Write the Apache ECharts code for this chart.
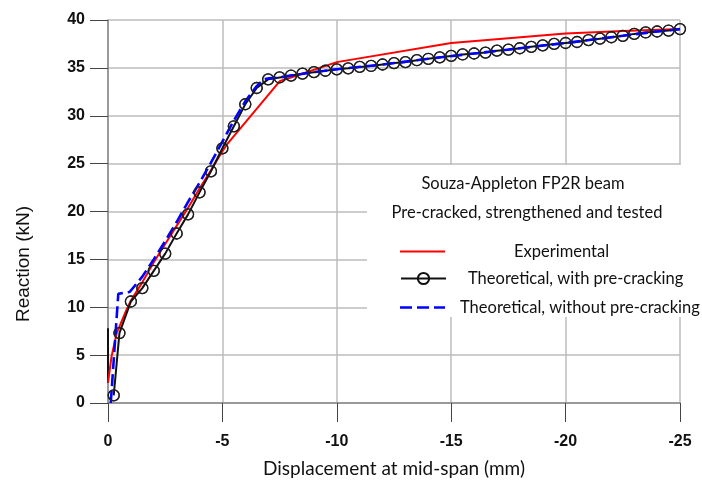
<!DOCTYPE html>
<html>
<head>
<meta charset="utf-8">
<script src="https://cdn.jsdelivr.net/npm/echarts@6/dist/echarts.min.js"></script>
<style>
html,body{margin:0;padding:0;background:#fff;}
#chart{width:702px;height:484px;}
</style>
</head>
<body>
<div id="chart"></div>
<script>
// Experimental
var expX = [0, -0.15, -0.38, -0.8, -1.0, -1.5, -2.0, -2.5, -3.0, -3.5, -4.0, -4.5, -5.0, -5.2, -7.5, -10, -15, -17.5, -20, -22.5, -25];
var expY = [2.1, 4.8, 7.3, 9.7, 10.7, 12.6, 14.7, 16.6, 18.5, 20.4, 22.4, 24.3, 26.3, 27.0, 33.6, 35.6, 37.6, 38.1, 38.6, 38.85, 39.05];
// Theoretical, with pre-cracking
var withX = [-0.25, -0.5, -1, -1.5, -2, -2.5, -3, -3.5, -4, -4.5, -5, -5.5, -6, -6.5, -7, -7.5, -8, -8.5, -9, -9.5, -10,
  -10.5, -11, -11.5, -12, -12.5, -13, -13.5, -14, -14.5, -15, -15.5, -16, -16.5, -17, -17.5, -18, -18.5, -19, -19.5, -20,
  -20.5, -21, -21.5, -22, -22.5, -23, -23.5, -24, -24.5, -25];
var withY = [0.8, 7.3, 10.6, 12.0, 13.8, 15.6, 17.7, 19.7, 22.0, 24.2, 26.6, 28.9, 31.2, 32.9, 33.8, 34.0, 34.2, 34.4, 34.55, 34.7, 34.85,
  34.95, 35.1, 35.2, 35.35, 35.5, 35.6, 35.8, 35.95, 36.1, 36.25, 36.4, 36.5, 36.6, 36.8, 36.9, 37.05, 37.2, 37.35, 37.5, 37.6,
  37.7, 37.9, 38.05, 38.2, 38.35, 38.55, 38.7, 38.8, 38.9, 39.05];
// Theoretical, without pre-cracking
var withoutX = [-0.12, -0.45, -0.95, -1.5, -2.0, -2.5, -3.0, -3.5, -4.0, -4.5, -5.0, -5.5, -6.0, -6.5, -6.8, -7.0, -7.5, -8, -9, -10, -12, -14, -16, -18, -20, -22, -24, -25];
var withoutY = [0, 11.4, 11.6, 13.2, 15.0, 16.9, 18.9, 21.0, 23.0, 25.1, 27.3, 29.5, 31.5, 33.1, 33.8, 33.9, 34.0, 34.2, 34.55, 34.85, 35.35, 35.95, 36.5, 37.05, 37.6, 38.2, 38.8, 39.05];
// short vertical segment at zero displacement
var startX = [0, 0];
var startY = [2.1, 7.8];

var xTicks = [0, -5, -10, -15, -20, -25];
var yTicks = [0, 5, 10, 15, 20, 25, 30, 35, 40];

function pairs(xs, ys){ return xs.map(function(x,i){ return [x, ys[i]]; }); }

var chart = echarts.init(document.getElementById('chart'), null, {renderer:'canvas'});
var sansFont = 'Lato';
var lineIcon = 'path://M0,0h45v2h-45z';
var dashIcon = 'path://M0,0h12v2.4h-12z M17,0h12v2.4h-12z M34,0h11v2.4h-11z';
var opt = {
  animation: false,
  backgroundColor: '#fff',
  grid: {left: 108, right: 22, top: 20, bottom: 81},
  xAxis: {
    type: 'value', min: -25, max: 0, interval: 5, inverse: true,
    name: 'Displacement at mid-span (mm)', nameLocation: 'middle', nameGap: 56,
    nameTextStyle: {fontFamily: sansFont, fontSize: 19, color: '#111'},
    axisLine: {onZero: false, lineStyle: {color: '#888', width: 1.5}},
    axisTick: {show: true, length: 19, lineStyle: {color: '#444', width: 1}},
    axisLabel: {margin: 31, fontFamily: 'Liberation Sans', fontWeight: 'bold', fontSize: 16, color: '#111',
      formatter: function(v){ return xTicks.indexOf(v) >= 0 ? String(v) : ''; }},
    splitLine: {show: true, lineStyle: {color: '#bdbdbd', width: 1.5}}
  },
  yAxis: {
    type: 'value', min: 0, max: 40, interval: 5,
    axisLine: {onZero: false, lineStyle: {color: '#888', width: 1.5}},
    axisTick: {show: true, length: 18, lineStyle: {color: '#444', width: 1}},
    axisLabel: {margin: 23, fontFamily: 'Liberation Sans', fontWeight: 'bold', fontSize: 16, color: '#111',
      formatter: function(v){ return yTicks.indexOf(v) >= 0 ? String(v) : ''; }},
    splitLine: {show: true, lineStyle: {color: '#bdbdbd', width: 1.5}}
  },
  legend: [
    {data: [{name: 'Experimental', icon: lineIcon}], left: 395, top: 238, itemWidth: 45, itemHeight: 14, z: 10,
      textStyle: {fontFamily: sansFont, fontSize: 16.5, color: '#111', padding: [0,0,0,64]}},
    {data: ['Theoretical, with pre-cracking'], left: 395, top: 265, itemWidth: 45, itemHeight: 14, z: 10,
      textStyle: {fontFamily: sansFont, fontSize: 16.5, color: '#111', padding: [0,0,0,17]}},
    {data: [{name: 'Theoretical, without pre-cracking', icon: dashIcon}], left: 395, top: 294, itemWidth: 45, itemHeight: 14, z: 10,
      textStyle: {fontFamily: sansFont, fontSize: 16.5, color: '#111', padding: [0,0,0,10]}}
  ],
  graphic: [
    {type: 'rect', z: 1, shape: {x: 367, y: 165, width: 335, height: 152}, style: {fill: '#fff'}},
    {type: 'text', z: 5, x: 523, y: 184, style: {text: 'Souza-Appleton FP2R beam', textAlign: 'center', textVerticalAlign: 'middle', font: '16.5px Lato', fill: '#111'}},
    {type: 'text', z: 5, x: 527, y: 213, style: {text: 'Pre-cracked, strengthened and tested', textAlign: 'center', textVerticalAlign: 'middle', font: '16.5px Lato', fill: '#111'}},
    {type: 'text', z: 5, x: 24, y: 264, rotation: Math.PI / 2, style: {text: 'Reaction (kN)', textAlign: 'center', textVerticalAlign: 'middle', font: '19px "Liberation Sans"', fill: '#111'}}
  ],
  series: [
    {name: 'start', type: 'line', data: pairs(startX, startY), symbol: 'none', z: 2,
      lineStyle: {color: '#111', width: 2}},
    {name: 'Experimental', type: 'line', data: pairs(expX, expY), symbol: 'none', z: 2,
      itemStyle: {color: '#ff0000'}, lineStyle: {color: '#ff0000', width: 2}},
    {name: 'Theoretical, with pre-cracking', type: 'line', data: pairs(withX, withY), z: 3,
      symbol: 'circle', symbolSize: 11,
      itemStyle: {color: 'rgba(255,255,255,0)', borderColor: '#111', borderWidth: 1.3},
      lineStyle: {color: '#111', width: 2}},
    {name: 'Theoretical, without pre-cracking', type: 'line', data: pairs(withoutX, withoutY), symbol: 'none', z: 4,
      itemStyle: {color: '#0000ff'}, lineStyle: {color: '#0000ff', width: 2.6, type: [12, 5]}},
    {name: 'circles', type: 'scatter', data: pairs(withX, withY), z: 5,
      symbol: 'circle', symbolSize: 11,
      itemStyle: {color: 'rgba(255,255,255,0)', borderColor: '#222', borderWidth: 1.3}}
  ]
};
chart.setOption(opt);
</script>
</body>
</html>
